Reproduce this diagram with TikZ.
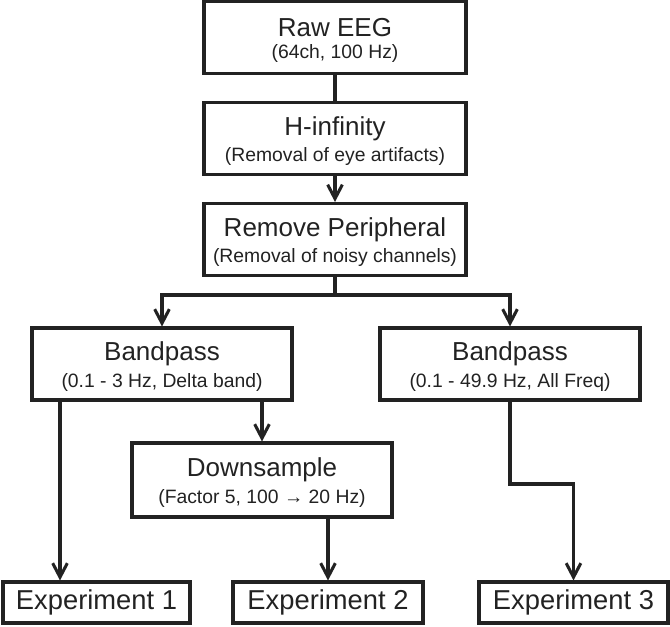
\documentclass[tikz,border=0pt]{standalone}
\usepackage{fontspec}
\setmainfont{Liberation Sans}
\usetikzlibrary{arrows.meta}
\definecolor{ink}{HTML}{222222}
\newcommand{\boxtext}[2]{{\fontsize{19.5}{18}\selectfont\rule{0pt}{18pt}#1}\\[4.5pt]{\fontsize{14.5}{18}\selectfont #2}}
\begin{document}
\begin{tikzpicture}[x=0.75pt,y=-0.75pt,
  proc/.style={draw=ink, line width=2.3pt, text=ink, align=center, inner sep=0pt,
    minimum width=#1*0.75pt, minimum height=72*0.75pt},
  expbox/.style={draw=ink, line width=2.3pt, text=ink, inner sep=0pt,
    minimum width=#1*0.75pt, minimum height=41*0.75pt, font=\fontsize{20.5}{22}\selectfont},
  conn/.style={draw=ink, line width=2.5pt},
  arr/.style={conn, -{Straight Barb[length=10.5pt,width=11pt,line width=2.3pt]}}
]
\useasboundingbox (0,0) rectangle (670,627);
\node[proc=262] (raw) at (335,37.5) {\boxtext{Raw EEG}{(64ch, 100 Hz)}};
\node[proc=262] (hinf) at (335,138.5) {\boxtext{H-infinity}{(Removal of eye artifacts)}};
\node[proc=262] (rem) at (335,239.5) {\boxtext{Remove Peripheral}{(Removal of noisy channels)}};
\node[proc=260] (bpl) at (162,364) {\boxtext{Bandpass}{(0.1 - 3 Hz, Delta band)}};
\node[proc=260] (bpr) at (510,364) {\boxtext{Bandpass}{(0.1 - 49.9 Hz, All Freq)}};
\node[proc=260, minimum height=74*0.75pt] (down) at (262,480) {\boxtext{Downsample}{(Factor 5, 100 → 20 Hz)}};
\node[expbox=187] (e1) at (96.5,602.5) {Experiment 1};
\node[expbox=190] (e2) at (328,602.5) {Experiment 2};
\node[expbox=189] (e3) at (573.5,602.5) {Experiment 3};
\coordinate (j) at (335,295);
\coordinate (a1) at (60,0);
\coordinate (k) at (0,484);
\draw[conn] (raw.south) -- (hinf.north);
\draw[arr] (hinf.south) -- (rem.north);
\draw[conn] (rem.south) -- (j);
\draw[arr] (j) -| (bpl.north);
\draw[arr] (j) -| (bpr.north);
\draw[arr] (bpl.south -| a1) -- (e1.north -| a1);
\draw[arr] (bpl.south -| down.north) -- (down.north);
\draw[arr] (down.south -| e2.north) -- (e2.north);
\draw[arr] (bpr.south) -- (bpr.south |- k) -| (e3.north);
\end{tikzpicture}
\end{document}
